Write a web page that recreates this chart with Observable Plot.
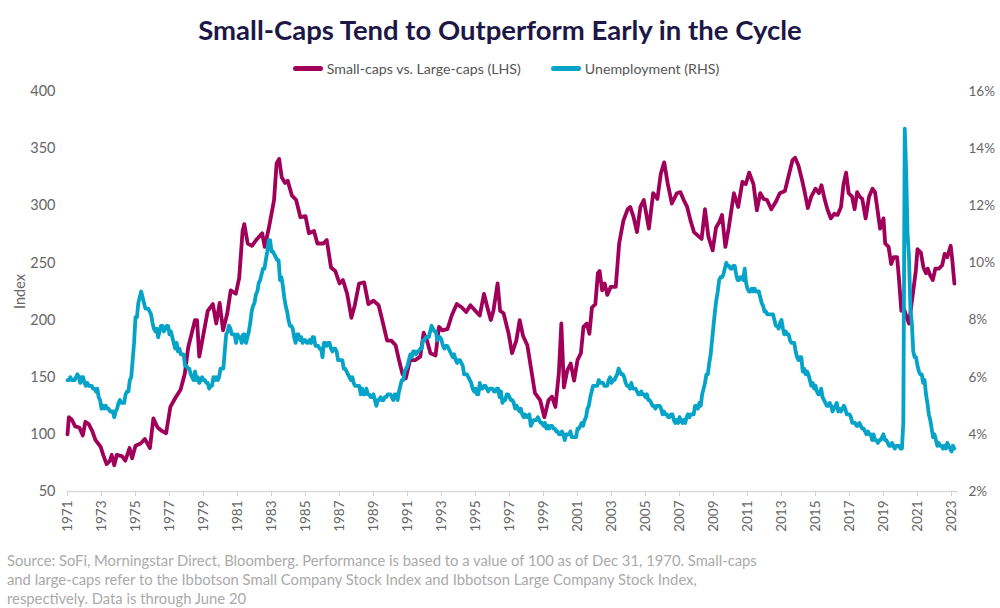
<!DOCTYPE html>
<html><head><meta charset="utf-8">
<script src="https://cdn.jsdelivr.net/npm/d3@7"></script>
<script src="https://cdn.jsdelivr.net/npm/@observablehq/plot@0.6"></script>
<style>
body{margin:0;background:#fff;width:1000px;height:608px;overflow:hidden;font-family:Lato,sans-serif;position:relative}
#title{position:absolute;top:13px;left:0;width:1000px;text-align:center;font-size:27.5px;font-weight:700;color:#1d1747}
#legend{position:absolute;top:60px;left:6px;width:1000px;display:flex;justify-content:center;gap:30px;font-size:14.2px;color:#555}
.item{display:flex;align-items:center}
.sw{width:30px;height:5px;border-radius:2.5px;margin-right:4px}
#chart{position:absolute;top:80px;left:0}
#foot{position:absolute;left:7px;top:551px;font-size:14.8px;color:#aaa;line-height:19px;white-space:nowrap}
</style></head>
<body>
<div id="title">Small-Caps Tend to Outperform Early in the Cycle</div>
<div id="legend">
  <div class="item"><div class="sw" style="background:#a0005a"></div><span>Small-caps vs. Large-caps (LHS)</span></div>
  <div class="item"><div class="sw" style="background:#05a3c8"></div><span>Unemployment (RHS)</span></div>
</div>
<div id="chart"></div>
<div id="foot">Source: SoFi, Morningstar Direct, Bloomberg. Performance is based to a value of 100 as of Dec 31, 1970. Small-caps<br>and large-caps refer to the Ibbotson Small Company Stock Index and Ibbotson Large Company Stock Index,<br>respectively. Data is through June 20</div>
<script>
// Small-caps vs large-caps relative index (LHS)
const smallCapsYears = [1971.00,1971.08,1971.25,1971.45,1971.7,1971.9,1972.05,1972.25,1972.45,1972.65,1972.95,1973.1,1973.3,1973.5,1973.6,1973.75,1973.9,1974.2,1974.4,1974.65,1974.8,1975.0,1975.3,1975.55,1975.85,1976.05,1976.3,1976.55,1976.8,1977.05,1977.35,1977.65,1977.9,1978.1,1978.3,1978.5,1978.62,1978.75,1979.0,1979.25,1979.55,1979.75,1979.95,1980.15,1980.4,1980.6,1980.9,1981.1,1981.3,1981.4,1981.6,1981.85,1982.15,1982.45,1982.6,1982.85,1983.15,1983.3,1983.45,1983.6,1983.8,1983.95,1984.2,1984.45,1984.7,1985.0,1985.2,1985.5,1985.7,1986.05,1986.25,1986.5,1986.75,1987.0,1987.2,1987.45,1987.7,1987.9,1988.15,1988.45,1988.7,1989.0,1989.3,1989.5,1989.8,1990.05,1990.3,1990.5,1990.7,1990.9,1991.15,1991.45,1991.75,1991.95,1992.15,1992.35,1992.65,1992.85,1993.05,1993.35,1993.6,1993.9,1994.2,1994.45,1994.7,1995.0,1995.25,1995.5,1995.7,1995.9,1996.05,1996.3,1996.45,1996.65,1996.95,1997.15,1997.4,1997.6,1997.8,1998.05,1998.5,1998.8,1999.05,1999.3,1999.5,1999.7,1999.9,2000.05,2000.2,2000.4,2000.6,2000.8,2001.0,2001.2,2001.35,2001.55,2001.7,2001.85,2002.05,2002.2,2002.3,2002.45,2002.6,2002.75,2002.95,2003.25,2003.45,2003.7,2003.95,2004.1,2004.3,2004.5,2004.7,2004.9,2005.2,2005.45,2005.7,2005.9,2006.1,2006.3,2006.55,2006.85,2007.05,2007.25,2007.45,2007.65,2007.85,2008.15,2008.3,2008.5,2008.7,2008.95,2009.15,2009.35,2009.5,2009.7,2009.9,2010.2,2010.45,2010.7,2010.9,2011.1,2011.35,2011.55,2011.75,2011.95,2012.15,2012.4,2012.65,2012.9,2013.2,2013.45,2013.65,2013.8,2014.0,2014.2,2014.35,2014.55,2014.75,2015.0,2015.2,2015.35,2015.55,2015.7,2015.9,2016.1,2016.3,2016.5,2016.65,2016.8,2016.95,2017.15,2017.3,2017.45,2017.6,2017.75,2017.95,2018.15,2018.35,2018.5,2018.65,2018.8,2019.0,2019.1,2019.3,2019.45,2019.6,2019.8,2019.9,2020.05,2020.2,2020.35,2020.5,2020.7,2020.9,2021.0,2021.2,2021.35,2021.5,2021.6,2021.75,2021.9,2022.05,2022.25,2022.45,2022.6,2022.75,2022.95,2023.05,2023.17];
const smallCapsValues = [100,115,113,107,106,99,111,109,103,95,89,82,74,77,82,73,82,81,77,88,79,90,92,96,88,114,106,103,101,124,132,139,153,176,188,200,200,168,188,208,214,197,215,191,206,226,223,237,278,284,267,265,271,276,264,281,305,337,341,325,320,322,309,305,290,291,276,278,267,267,270,246,243,232,235,223,202,213,232,233,214,217,213,201,182,182,178,165,153,149,165,165,168,189,182,171,169,194,191,192,204,214,211,207,213,208,204,223,211,200,208,232,208,206,188,171,182,200,186,178,136,130,115,130,133,124,153,197,141,156,162,147,165,171,194,197,188,211,214,241,243,226,232,222,229,229,267,287,297,299,290,277,299,305,280,311,306,328,338,320,302,311,312,305,299,287,277,273,271,297,273,261,281,286,292,264,281,311,299,321,319,329,319,296,311,306,305,297,303,311,313,328,340,342,335,323,313,298,308,315,311,318,305,297,289,293,292,299,319,329,311,308,297,312,308,306,289,308,315,312,296,280,289,267,264,249,255,255,238,208,210,203,197,220,243,262,259,246,241,245,239,235,245,245,248,258,255,265,252,232];

// US unemployment rate, %, monthly from Jan 1971 (RHS)
const unemploymentStart = 1971;
const unemploymentRate = [
5.9,5.9,6.0,5.9,5.9,5.9,6.0,6.1,6.0,5.8,6.0,6.0,
5.8,5.7,5.8,5.7,5.7,5.7,5.6,5.6,5.5,5.6,5.3,5.2,
4.9,5.0,4.9,5.0,4.9,4.9,4.8,4.8,4.8,4.6,4.8,4.9,
5.1,5.2,5.1,5.1,5.1,5.4,5.5,5.5,5.9,6.0,6.6,7.2,
8.1,8.1,8.6,8.8,9.0,8.8,8.6,8.4,8.4,8.4,8.3,8.2,
7.9,7.7,7.6,7.7,7.4,7.6,7.8,7.8,7.6,7.7,7.8,7.8,
7.5,7.6,7.4,7.2,7.0,7.2,6.9,7.0,6.8,6.8,6.8,6.4,
6.4,6.3,6.3,6.1,6.0,5.9,6.2,5.9,6.0,5.8,5.9,6.0,
5.9,5.9,5.8,5.8,5.6,5.7,5.7,6.0,5.9,6.0,5.9,6.0,
6.3,6.3,6.3,6.9,7.5,7.6,7.8,7.7,7.5,7.5,7.5,7.2,
7.5,7.4,7.4,7.2,7.5,7.5,7.2,7.4,7.6,7.9,8.3,8.5,
8.6,8.9,9.0,9.3,9.4,9.6,9.8,9.8,10.1,10.4,10.8,10.8,
10.4,10.4,10.3,10.2,10.1,10.1,9.4,9.5,9.2,8.8,8.5,8.3,
8.0,7.8,7.8,7.7,7.4,7.2,7.5,7.5,7.3,7.4,7.2,7.3,
7.3,7.2,7.2,7.3,7.2,7.4,7.4,7.1,7.1,7.1,7.0,7.0,
6.7,7.2,7.2,7.1,7.2,7.2,7.0,6.9,7.0,7.0,6.9,6.6,
6.6,6.6,6.6,6.3,6.3,6.2,6.1,6.0,5.9,6.0,5.8,5.7,
5.7,5.7,5.7,5.4,5.6,5.4,5.4,5.6,5.4,5.4,5.3,5.3,
5.4,5.2,5.0,5.2,5.2,5.3,5.2,5.2,5.3,5.3,5.4,5.4,
5.4,5.3,5.2,5.4,5.4,5.2,5.5,5.7,5.9,5.9,6.2,6.3,
6.4,6.6,6.8,6.7,6.9,6.9,6.8,6.9,6.9,7.0,7.0,7.3,
7.3,7.4,7.4,7.4,7.6,7.8,7.7,7.6,7.6,7.3,7.4,7.4,
7.3,7.1,7.0,7.1,7.1,7.0,6.9,6.8,6.7,6.8,6.6,6.5,
6.6,6.6,6.5,6.4,6.1,6.1,6.1,6.0,5.9,5.8,5.6,5.5,
5.6,5.4,5.4,5.8,5.6,5.6,5.7,5.7,5.6,5.5,5.6,5.6,
5.6,5.5,5.5,5.6,5.6,5.3,5.5,5.1,5.2,5.2,5.4,5.4,
5.3,5.2,5.2,5.1,4.9,5.0,4.9,4.8,4.9,4.7,4.6,4.7,
4.6,4.6,4.7,4.3,4.4,4.5,4.5,4.5,4.6,4.5,4.4,4.4,
4.3,4.4,4.2,4.3,4.2,4.3,4.3,4.2,4.2,4.1,4.1,4.0,
4.0,4.1,4.0,3.8,4.0,4.0,4.0,4.1,3.9,3.9,3.9,3.9,
4.2,4.2,4.3,4.4,4.3,4.5,4.6,4.9,5.0,5.3,5.5,5.7,
5.7,5.7,5.7,5.9,5.8,5.8,5.8,5.7,5.7,5.7,5.9,6.0,
5.8,5.9,5.9,6.0,6.1,6.3,6.2,6.1,6.1,6.0,5.8,5.7,
5.7,5.6,5.8,5.6,5.6,5.6,5.5,5.4,5.4,5.5,5.4,5.4,
5.3,5.4,5.2,5.2,5.1,5.0,5.0,4.9,5.0,5.0,5.0,4.9,
4.7,4.8,4.7,4.7,4.6,4.6,4.7,4.7,4.5,4.4,4.5,4.4,
4.6,4.5,4.4,4.5,4.4,4.6,4.7,4.6,4.7,4.7,4.7,5.0,
5.0,4.9,5.1,5.0,5.4,5.6,5.8,6.1,6.1,6.5,6.8,7.3,
7.8,8.3,8.7,9.0,9.4,9.5,9.5,9.6,9.8,10.0,9.9,9.9,
9.8,9.8,9.9,9.9,9.6,9.4,9.4,9.5,9.5,9.4,9.8,9.3,
9.1,9.0,9.0,9.1,9.0,9.1,9.0,9.0,9.0,8.8,8.6,8.5,
8.3,8.3,8.2,8.2,8.2,8.2,8.2,8.0,7.8,7.8,7.7,7.9,
8.0,7.7,7.5,7.6,7.5,7.5,7.3,7.2,7.2,7.2,6.9,6.7,
6.6,6.7,6.7,6.2,6.3,6.1,6.2,6.1,5.9,5.7,5.8,5.6,
5.7,5.5,5.4,5.4,5.6,5.3,5.2,5.1,5.0,5.0,5.1,5.0,
4.8,4.9,5.0,5.1,4.8,4.9,4.8,4.9,5.0,4.9,4.7,4.7,
4.7,4.6,4.4,4.4,4.4,4.3,4.3,4.4,4.3,4.2,4.2,4.1,
4.0,4.1,4.0,4.0,3.8,4.0,3.8,3.8,3.7,3.8,3.8,3.9,
4.0,3.8,3.8,3.7,3.6,3.6,3.7,3.6,3.5,3.6,3.6,3.6,
3.5,3.5,4.4,14.7,13.2,11.0,10.2,8.4,7.9,6.9,6.7,6.7,
6.4,6.2,6.1,6.1,5.8,5.9,5.4,5.1,4.7,4.5,4.2,3.9,
4.0,3.8,3.6,3.7,3.6,3.6,3.5,3.6,3.5,3.7,3.6,3.5,
3.4,3.6,3.5];

const xTickYears = [1971,1973,1975,1977,1979,1981,1983,1985,1987,1989,1991,1993,1995,1997,1999,2001,2003,2005,2007,2009,2011,2013,2015,2017,2019,2021,2023];
const leftTicks = [50,100,150,200,250,300,350,400];
const rightTickLabels = ["2%","4%","6%","8%","10%","12%","14%","16%"];
const rightMin = 2, rightMax = 16;

const sc = smallCapsYears.map((y,i)=>({year:y, value:smallCapsValues[i]}));
// map unemployment (2%–16%) onto the left scale (50–400)
const un = unemploymentRate.map((u,i)=>({year: unemploymentStart + i/12, v: 50 + (u-rightMin)/(rightMax-rightMin)*350}));

const chart = Plot.plot({
  width:1000, height:460,
  marginLeft:67, marginRight:42, marginTop:11, marginBottom:49,
  x:{domain:[1971,2023], range:[67,951]},
  y:{domain:[50,400], range:[411,11]},
  style:{fontFamily:"Lato, sans-serif", fontSize:"13.5px", color:"#666", background:"white", overflow:"visible"},
  marks:[
    Plot.ruleY([50],{stroke:"#d9d9d9", strokeWidth:1.5}),
    Plot.axisX({ticks:xTickYears, tickFormat:d=>String(d), tickRotate:-90, tickSize:5, tickPadding:4, stroke:"#d0d0d0", label:null}),
    Plot.axisY({anchor:"left", ticks:leftTicks, tickSize:0, tickPadding:12, label:"Index", labelAnchor:"center", labelArrow:"none", labelOffset:53, fontSize:14.5}),
    Plot.axisY({anchor:"right", ticks:leftTicks, tickFormat:(d,i)=>rightTickLabels[leftTicks.indexOf(d)], tickSize:0, tickPadding:10, label:null}),
    Plot.line(sc,{x:"year", y:"value", stroke:"#a0005a", strokeWidth:3.8, strokeLinejoin:"round"}),
    Plot.line(un,{x:"year", y:"v", stroke:"#05a3c8", strokeWidth:3.8, strokeLinejoin:"round"})
  ]
});
document.getElementById("chart").appendChild(chart);
</script>
</body></html>
